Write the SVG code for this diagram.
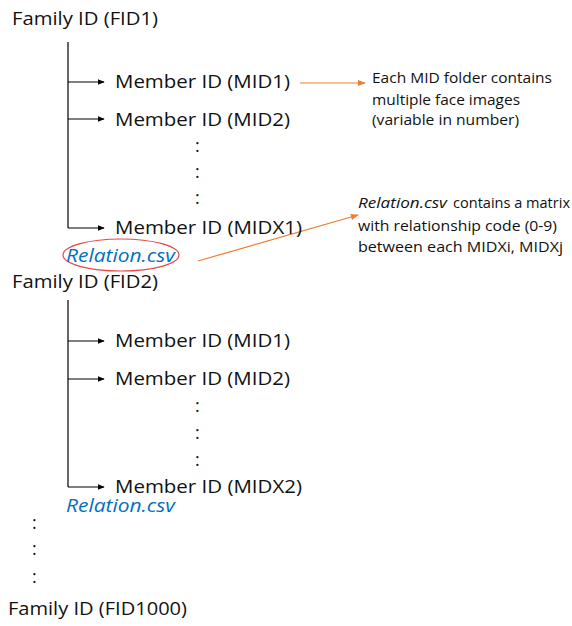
<svg xmlns="http://www.w3.org/2000/svg" width="572" height="626" viewBox="0 0 572 626">
<style>
text{font-family:"Open Sans","Liberation Sans",sans-serif;fill:#111}
.fam{font-size:18.5px}
.mem{font-size:18.5px}
.rel{font-size:18px;font-style:italic;fill:#0070C0}
.note{font-size:14.5px}
.dot{font-size:18px}
.tree{stroke:#000;stroke-width:1.2;fill:none}
.arr{stroke:#000;stroke-width:1.2;fill:none;marker-end:url(#ah)}
.oarr{stroke:#ED7D31;stroke-width:1.2;fill:none;marker-end:url(#oh)}
</style>
<defs>
<marker id="ah" viewBox="0 0 10 10" refX="9" refY="5" markerWidth="7" markerHeight="7" markerUnits="userSpaceOnUse" orient="auto"><path d="M0,1 L10,5 L0,9 z" fill="#000"/></marker>
<marker id="oh" viewBox="0 0 10 10" refX="9" refY="5" markerWidth="8" markerHeight="8" markerUnits="userSpaceOnUse" orient="auto"><path d="M0,1 L10,5 L0,9 z" fill="#ED7D31"/></marker>
</defs>
<g id="connectors">
<path class="tree" d="M68,42 V228"/>
<path class="arr" d="M68,82 H104"/>
<path class="arr" d="M68,119 H104"/>
<path class="arr" d="M68,228 H104"/>
<path class="tree" d="M68,300 V487"/>
<path class="arr" d="M68,341 H104"/>
<path class="arr" d="M68,379 H104"/>
<path class="arr" d="M68,487 H104"/>
<path class="oarr" d="M300,83 H365"/>
<path class="oarr" d="M198,261 L358,215"/>
</g>
<g id="fid1"><text class="fam" x="12" y="25" textLength="146" lengthAdjust="spacingAndGlyphs">Family ID (FID1)</text></g>
<g id="f1-mid1"><text class="mem" x="115" y="88" textLength="175" lengthAdjust="spacingAndGlyphs">Member ID (MID1)</text></g>
<g id="f1-mid2"><text class="mem" x="115" y="126" textLength="175" lengthAdjust="spacingAndGlyphs">Member ID (MID2)</text></g>
<g id="f1-dots"><text class="dot" x="195" y="152">:</text><text class="dot" x="195" y="178">:</text><text class="dot" x="195" y="204">:</text></g>
<g id="f1-midx1"><text class="mem" x="115" y="234" textLength="187" lengthAdjust="spacingAndGlyphs">Member ID (MIDX1)</text></g>
<g id="f1-rel"><ellipse cx="121" cy="255" rx="58" ry="16" fill="none" stroke="#E8474A" stroke-width="1.2"/><text class="rel" x="66" y="262" textLength="109" lengthAdjust="spacingAndGlyphs">Relation.csv</text></g>
<g id="fid2"><text class="fam" x="12" y="288" textLength="146" lengthAdjust="spacingAndGlyphs">Family ID (FID2)</text></g>
<g id="f2-mid1"><text class="mem" x="115" y="347" textLength="175" lengthAdjust="spacingAndGlyphs">Member ID (MID1)</text></g>
<g id="f2-mid2"><text class="mem" x="115" y="385" textLength="175" lengthAdjust="spacingAndGlyphs">Member ID (MID2)</text></g>
<g id="f2-dots"><text class="dot" x="195" y="412">:</text><text class="dot" x="195" y="439">:</text><text class="dot" x="195" y="466">:</text></g>
<g id="f2-midx2"><text class="mem" x="115" y="493" textLength="187" lengthAdjust="spacingAndGlyphs">Member ID (MIDX2)</text></g>
<g id="f2-rel"><text class="rel" x="66" y="512" textLength="109" lengthAdjust="spacingAndGlyphs">Relation.csv</text></g>
<g id="fam-dots"><text class="dot" x="32" y="529">:</text><text class="dot" x="32" y="555">:</text><text class="dot" x="32" y="583">:</text></g>
<g id="fid1000"><text class="fam" x="8" y="615" textLength="179" lengthAdjust="spacingAndGlyphs">Family ID (FID1000)</text></g>
<g id="note-mid">
<text class="note" x="372" y="83" textLength="180" lengthAdjust="spacingAndGlyphs">Each MID folder contains</text>
<text class="note" x="372" y="105" textLength="148" lengthAdjust="spacingAndGlyphs">multiple face images</text>
<text class="note" x="372" y="125" textLength="147" lengthAdjust="spacingAndGlyphs">(variable in number)</text>
</g>
<g id="note-rel">
<text class="note" x="358" y="208"><tspan font-style="italic" textLength="89" lengthAdjust="spacingAndGlyphs">Relation.csv</tspan><tspan x="453" textLength="117" lengthAdjust="spacingAndGlyphs">contains a matrix</tspan></text>
<text class="note" x="358" y="231" textLength="199" lengthAdjust="spacingAndGlyphs">with relationship code (0-9)</text>
<text class="note" x="358" y="252" textLength="205" lengthAdjust="spacingAndGlyphs">between each MIDXi, MIDXj</text>
</g>
</svg>
